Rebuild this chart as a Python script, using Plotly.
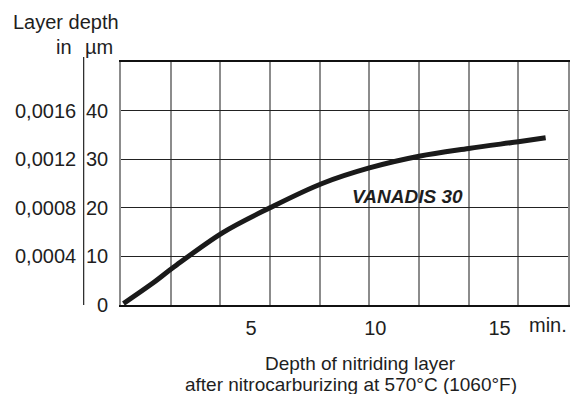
import plotly.graph_objects as go

# Data
time_min = [0.1, 1.2, 2.1, 4.1, 6.0, 8.1, 10.0, 12.0, 14.0, 16.0, 17.1]
depth_um = [0.3, 4.2, 7.7, 14.9, 20.0, 25.0, 28.2, 30.6, 32.2, 33.6, 34.4]

x_ticks = [5, 10, 15]
y_ticks = [0, 10, 20, 30, 40]
y_ticks_inch = ["0,0004", "0,0008", "0,0012", "0,0016"]
y_ticks_inch_pos = [10, 20, 30, 40]
series_label = "VANADIS 30"

FONT = "Liberation Sans, Arial, Helvetica, sans-serif"
TXT = "#1e1e1e"
FS = 20

fig = go.Figure()
fig.add_trace(go.Scatter(
    x=time_min, y=depth_um, mode="lines",
    line=dict(color="#1a1a1a", width=5, shape="spline", smoothing=1.0),
    showlegend=False, hoverinfo="skip",
))

L, R, T, B = 121, 3, 62, 89
fig.update_layout(
    width=573, height=394,
    margin=dict(l=L, r=R, t=T, b=B, pad=0),
    paper_bgcolor="white", plot_bgcolor="white",
    font=dict(family=FONT, size=FS, color=TXT),
    showlegend=False,
)
fig.update_xaxes(
    range=[0, 18], tickvals=x_ticks, ticktext=[str(v) for v in x_ticks],
    showgrid=False, zeroline=False, ticks="",
    showline=True, linecolor="#111111", linewidth=1.5, mirror=True,
    ticklabelstandoff=4, ticklabelshift=6,
    minor=dict(dtick=2, tick0=0, showgrid=True, gridcolor="#8c8c8c", gridwidth=1.6, ticks=""),
)
fig.update_yaxes(
    range=[0, 50], tickvals=y_ticks, ticktext=[str(v) for v in y_ticks],
    showgrid=True, gridcolor="#222222", gridwidth=1.2, zeroline=False, ticks="",
    showline=True, linecolor="#8c8c8c", linewidth=1.6, mirror=True,
    ticklabelstandoff=7,
)

pw = 573 - L - R
ph = 394 - T - B

def px(xp):
    return (xp - L) / pw

def py(yp):
    return (394 - B - yp) / ph

ann = []
for lab, v in zip(y_ticks_inch, y_ticks_inch_pos):
    ann.append(dict(x=px(78), xref="paper", y=v, yref="y", text=lab,
                    showarrow=False, xanchor="right", yanchor="middle"))
ann.append(dict(x=px(11), xref="paper", y=py(22), yref="paper", text="Layer depth",
                showarrow=False, xanchor="left", yanchor="middle"))
ann.append(dict(x=px(64), xref="paper", y=py(47), yref="paper", text="in",
                showarrow=False, xanchor="center", yanchor="middle"))
ann.append(dict(x=px(98.5), xref="paper", y=py(47), yref="paper", text="µm",
                showarrow=False, xanchor="center", yanchor="middle"))
ann.append(dict(x=px(550), xref="paper", y=py(325), yref="paper", text="min.",
                showarrow=False, xanchor="center", yanchor="middle"))
ann.append(dict(x=px(362), xref="paper", y=py(363), yref="paper", text="Depth of nitriding layer",
                showarrow=False, xanchor="center", yanchor="middle", font=dict(size=19)))
ann.append(dict(x=px(352), xref="paper", y=py(384), yref="paper",
                text="after nitrocarburizing at 570°C (1060°F)",
                showarrow=False, xanchor="center", yanchor="middle", font=dict(size=19)))
ann.append(dict(x=11.55, y=22.4, xref="x", yref="y", text="<b><i>" + series_label + "</i></b>",
                showarrow=False, xanchor="center", yanchor="middle", font=dict(size=19)))
fig.update_layout(annotations=ann)

fig.add_shape(type="line", xref="paper", yref="paper",
              x0=px(83.5), x1=px(83.5), y0=py(305), y1=py(57),
              line=dict(color="#222222", width=1.2))

fig.write_html("out.html")
